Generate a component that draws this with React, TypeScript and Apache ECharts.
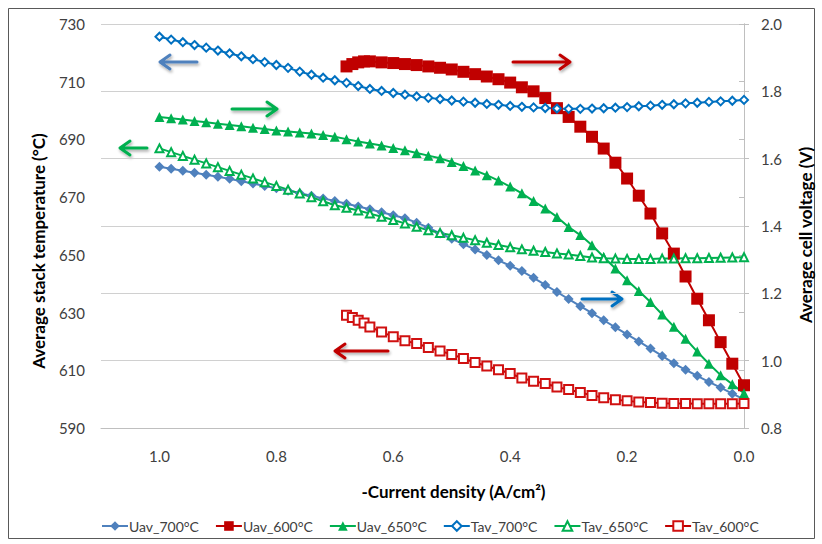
import React, { useEffect, useRef } from "react";
import * as echarts from "echarts";

const X_FULL = [1.00,0.98,0.96,0.94,0.92,0.90,0.88,0.86,0.84,0.82,0.80,0.78,0.76,0.74,0.72,0.70,0.68,0.66,0.64,0.62,0.60,0.58,0.56,0.54,0.52,0.50,0.48,0.46,0.44,0.42,0.40,0.38,0.36,0.34,0.32,0.30,0.28,0.26,0.24,0.22,0.20,0.18,0.16,0.14,0.12,0.10,0.08,0.06,0.04,0.02,0.00];
const X_600 = [0.68,0.67,0.66,0.65,0.64,0.62,0.60,0.58,0.56,0.54,0.52,0.50,0.48,0.46,0.44,0.42,0.40,0.38,0.36,0.34,0.32,0.30,0.28,0.26,0.24,0.22,0.20,0.18,0.16,0.14,0.12,0.10,0.08,0.06,0.04,0.02,0.00];

const UAV_700 = [1.576,1.570,1.564,1.558,1.552,1.546,1.540,1.533,1.526,1.519,1.512,1.505,1.497,1.490,1.482,1.474,1.466,1.458,1.450,1.441,1.432,1.423,1.410,1.395,1.378,1.362,1.346,1.330,1.314,1.298,1.282,1.266,1.246,1.225,1.204,1.183,1.162,1.141,1.120,1.099,1.078,1.057,1.036,1.014,0.992,0.973,0.955,0.937,0.920,0.902,0.885];
const UAV_650 = [1.724,1.720,1.716,1.712,1.708,1.704,1.700,1.696,1.692,1.688,1.684,1.681,1.678,1.675,1.670,1.665,1.658,1.651,1.645,1.639,1.632,1.625,1.617,1.609,1.601,1.590,1.578,1.565,1.551,1.535,1.517,1.497,1.474,1.452,1.427,1.397,1.373,1.343,1.308,1.274,1.239,1.207,1.174,1.137,1.101,1.065,1.027,0.991,0.957,0.930,0.903];
const UAV_600 = [1.874,1.881,1.886,1.889,1.889,1.886,1.884,1.881,1.878,1.874,1.870,1.865,1.858,1.851,1.844,1.836,1.826,1.812,1.800,1.780,1.750,1.724,1.695,1.665,1.630,1.588,1.541,1.490,1.437,1.378,1.318,1.250,1.184,1.120,1.055,0.991,0.927];
const TAV_700 = [725.6,724.6,723.7,722.7,721.8,720.8,719.8,718.8,717.8,716.8,715.8,714.8,713.5,712.4,711.4,710.5,709.6,708.5,707.5,706.8,706.1,705.5,704.9,704.4,704.0,703.5,703.1,702.7,702.3,702.0,701.6,701.3,701.1,700.9,700.7,700.6,700.6,700.7,700.8,701.0,701.2,701.5,701.7,702.0,702.2,702.5,702.7,703.0,703.2,703.4,703.7];
const TAV_650 = [686.9,685.6,684.3,683.0,681.7,680.4,679.1,677.8,676.5,675.2,673.9,672.6,671.3,670.0,668.6,667.2,666.3,665.4,664.3,663.2,662.1,660.9,659.7,658.5,657.6,656.8,655.9,655.1,654.2,653.4,652.6,651.9,651.4,651.0,650.5,650.1,649.6,649.1,648.8,648.7,648.6,648.6,648.6,648.7,648.7,648.8,648.8,648.9,649.0,649.1,649.2];
const TAV_600 = [629.1,628.3,627.3,626.4,625.0,623.3,621.6,620.2,619.3,617.9,616.7,615.5,614.1,612.7,611.5,610.2,608.9,607.3,606.2,605.4,604.2,603.3,602.3,601.3,600.5,599.8,599.4,599.0,598.8,598.6,598.5,598.5,598.4,598.4,598.4,598.4,598.5];

const SERIES_NAMES = ["Uav_700°C", "Uav_600°C", "Uav_650°C", "Tav_700°C", "Tav_650°C", "Tav_600°C"];

const FONT = "Lato";

function pair(xs: number[], ys: number[]) {
  return xs.map((x, i) => [x, ys[i]]);
}

function arrow(x1: number, x2: number, y: number, color: string) {
  const dir = x2 > x1 ? 1 : -1;
  return {
    type: "polyline",
    silent: true,
    shape: {
      points: [[x1, y], [x2, y], [x2 - dir * 10, y - 7], [x2, y], [x2 - dir * 10, y + 7]],
    },
    style: {
      stroke: color,
      lineWidth: 3,
      fill: "none",
      lineCap: "round",
      lineJoin: "round",
      shadowBlur: 3,
      shadowColor: "rgba(0,0,0,0.35)",
      shadowOffsetX: 1,
      shadowOffsetY: 2,
    },
  };
}

export default function App() {
  const ref = useRef<HTMLDivElement>(null);
  useEffect(() => {
    if (!ref.current) return;
    const chart = echarts.init(ref.current, undefined, { renderer: "svg" });
    const tickFmt = (v: number) => {
      if (Math.abs(v * 5 - Math.round(v * 5)) > 1e-6) return "";
      return v.toFixed(1);
    };
    const option = {
      animation: false,
      backgroundColor: "#ffffff",
      textStyle: { fontFamily: FONT },
      grid: { left: 101, right: 75, top: 24, bottom: 116, containLabel: false },
      legend: {
        data: SERIES_NAMES,
        left: 96,
        top: 514,
        itemWidth: 26,
        itemHeight: 12,
        itemGap: 16,
        textStyle: { fontFamily: FONT, fontSize: 14, color: "#404040", padding: [0, 0, 0, -4] },
      },
      xAxis: {
        type: "value",
        min: 0,
        max: 1.1,
        interval: 0.2,
        inverse: true,
        name: "-Current density (A/cm²)",
        nameLocation: "middle",
        nameGap: 55,
        nameTextStyle: { fontFamily: FONT, fontSize: 17, fontWeight: "bold", color: "#000", padding: [0, 0, 0, 62] },
        axisLine: { show: true, lineStyle: { color: "#BFBFBF", width: 1 } },
        axisTick: { show: false },
        splitLine: { show: false },
        axisLabel: { formatter: tickFmt, fontSize: 15, color: "#404040", margin: 20, showMaxLabel: false },
      },
      yAxis: [
        {
          type: "value",
          min: 590,
          max: 730,
          interval: 20,
          position: "left",
          name: "Average stack temperature (°C)",
          nameLocation: "middle",
          nameRotate: 90,
          nameGap: 54,
          nameTextStyle: { fontFamily: FONT, fontSize: 17, fontWeight: "bold", color: "#000", padding: [0, 50, 0, 0] },
          axisLine: { show: true, lineStyle: { color: "#BFBFBF", width: 1 } },
          axisTick: { show: true, length: 5, lineStyle: { color: "#BFBFBF" } },
          splitLine: { show: false },
          axisLabel: { fontSize: 15, color: "#404040", margin: 16 },
        },
        {
          type: "value",
          min: 0.8,
          max: 2.0,
          interval: 0.2,
          position: "right",
          name: "Average cell voltage (V)",
          nameLocation: "middle",
          nameRotate: 90,
          nameGap: 53,
          nameTextStyle: { fontFamily: FONT, fontSize: 17, fontWeight: "bold", color: "#000", padding: [0, 18, 0, 0] },
          axisLine: { show: true, lineStyle: { color: "#BFBFBF", width: 1 } },
          axisTick: { show: true, length: 5, lineStyle: { color: "#BFBFBF" } },
          splitLine: { show: true, lineStyle: { color: "#D0D0D0", width: 1 } },
          axisLabel: { fontSize: 15, color: "#404040", margin: 17, formatter: (v: number) => v.toFixed(1) },
        },
      ],
      series: [
        {
          name: "Uav_700°C", type: "line", yAxisIndex: 1, data: pair(X_FULL, UAV_700),
          symbol: "diamond", symbolSize: 10, itemStyle: { color: "#4F81BD" }, lineStyle: { color: "#4F81BD", width: 2 },
        },
        {
          name: "Uav_600°C", type: "line", yAxisIndex: 1, data: pair(X_600, UAV_600),
          symbol: "rect", symbolSize: 12, itemStyle: { color: "#C00000" }, lineStyle: { color: "#C00000", width: 2 },
        },
        {
          name: "Uav_650°C", type: "line", yAxisIndex: 1, data: pair(X_FULL, UAV_650),
          symbol: "triangle", symbolSize: 10, itemStyle: { color: "#00B050" }, lineStyle: { color: "#00B050", width: 2 },
        },
        {
          name: "Tav_700°C", type: "line", yAxisIndex: 0, data: pair(X_FULL, TAV_700),
          symbol: "emptyDiamond", symbolSize: 8, itemStyle: { color: "#0070C0", borderWidth: 1.5 }, lineStyle: { color: "#0070C0", width: 2 },
        },
        {
          name: "Tav_650°C", type: "line", yAxisIndex: 0, data: pair(X_FULL, TAV_650),
          symbol: "emptyTriangle", symbolSize: 8, itemStyle: { color: "#00B050", borderWidth: 1.5 }, lineStyle: { color: "#00B050", width: 2 },
        },
        {
          name: "Tav_600°C", type: "line", yAxisIndex: 0, data: pair(X_600, TAV_600),
          symbol: "emptyRect", symbolSize: 9, itemStyle: { color: "#D01010", borderWidth: 1.5 }, lineStyle: { color: "#C00000", width: 2 },
        },
      ],
      graphic: [
        {
          type: "rect",
          silent: true,
          shape: { x: 8.5, y: 8.5, width: 806, height: 530 },
          style: { fill: "none", stroke: "#595959", lineWidth: 1 },
        },
        arrow(197, 160, 62, "#4F81BD"),
        arrow(232, 277, 109, "#00B050"),
        arrow(147, 120, 148, "#00B050"),
        arrow(513, 570, 62, "#C00000"),
        arrow(582, 622, 299, "#0070C0"),
        arrow(388, 335, 351, "#C00000"),
      ],
    };
    chart.setOption(option as any);
    return () => chart.dispose();
  }, []);
  return (
    <div
      ref={ref}
      style={{ position: "absolute", left: 0, top: 0, width: 822, height: 544 }}
    />
  );
}
